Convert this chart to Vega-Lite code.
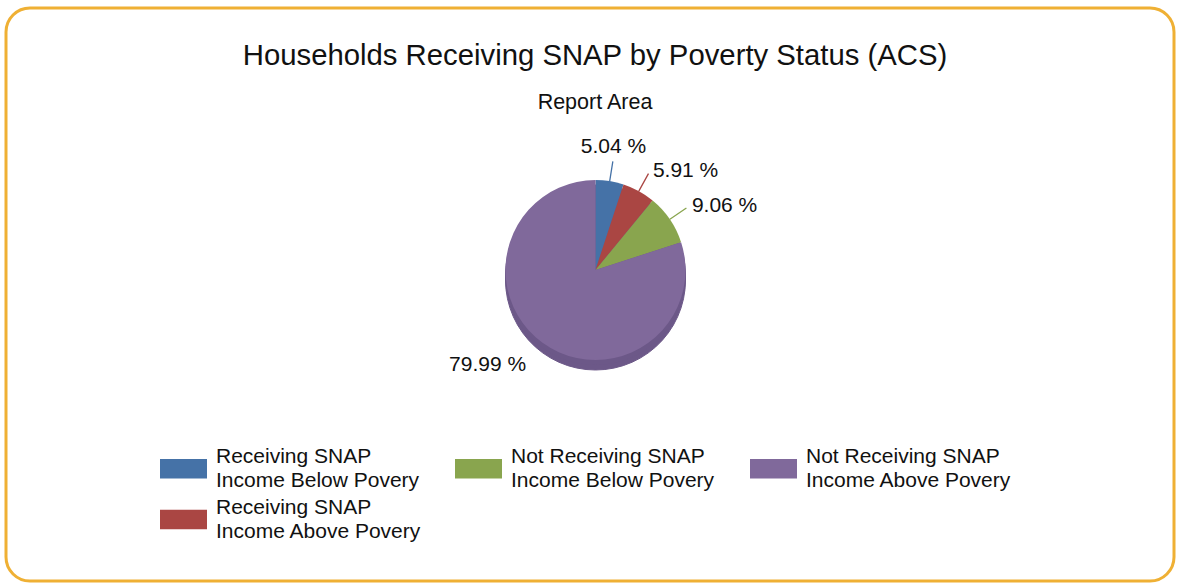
{
  "$schema": "https://vega.github.io/schema/vega-lite/v6.json",
  "width": 1180,
  "height": 586,
  "autosize": {"type": "fit", "contains": "padding"},
  "padding": {"left": 6, "top": 8, "right": 6, "bottom": 5},
  "background": "white",
  "view": {"stroke": "#EFB034", "strokeWidth": 3, "cornerRadius": 24, "fill": "white"},
  "config": {
    "view": {"stroke": "#EFB034", "strokeWidth": 3, "cornerRadius": 24},
    "font": "Liberation Sans"
  },
  "title": {
    "text": "Households Receiving SNAP by Poverty Status (ACS)",
    "subtitle": "Report Area",
    "fontSize": 29.3,
    "fontWeight": "normal",
    "color": "#111111",
    "subtitleFontSize": 21.5,
    "subtitleColor": "#111111",
    "subtitlePadding": 20,
    "anchor": "middle",
    "offset": -105,
    "dx": 5
  },
  "data": {
    "values": [
      {"category": "Receiving SNAP Income Below Povery", "pct": 5.04, "label": "5.04 %"},
      {"category": "Receiving SNAP Income Above Povery", "pct": 5.91, "label": "5.91 %"},
      {"category": "Not Receiving SNAP Income Below Povery", "pct": 9.06, "label": "9.06 %"},
      {"category": "Not Receiving SNAP Income Above Povery", "pct": 79.99, "label": "79.99 %"}
    ]
  },
  "encoding": {
    "theta": {"field": "pct", "type": "quantitative", "stack": true},
    "order": {"field": "pct", "type": "quantitative", "sort": "ascending"}
  },
  "layer": [
    {
      "mark": {"type": "arc", "outerRadius": 90, "fill": "#6C5888", "stroke": "#6C5888", "strokeWidth": 1, "xOffset": 5.5, "yOffset": -14.5}
    },
    {
      "mark": {"type": "arc", "outerRadius": 90, "fill": "#6C5888", "stroke": "#6C5888", "strokeWidth": 1, "xOffset": 5.5, "yOffset": -19.5}
    },
    {
      "mark": {"type": "arc", "outerRadius": 90, "xOffset": 5.5, "yOffset": -24.5},
      "encoding": {
        "color": {
          "field": "category",
          "type": "nominal",
          "scale": {
            "domain": ["Receiving SNAP Income Below Povery", "Not Receiving SNAP Income Below Povery", "Not Receiving SNAP Income Above Povery", "Receiving SNAP Income Above Povery"],
            "range": ["#4572A7", "#89A54E", "#80699B", "#AA4643"]
          },
          "legend": {
            "orient": "none",
            "legendX": 154,
            "legendY": 437,
            "direction": "horizontal",
            "columns": 3,
            "title": null,
            "symbolType": "M-1,-0.42H1V0.42H-1Z",
            "symbolSize": 2209,
            "symbolStrokeWidth": 0,
            "symbolOpacity": 1,
            "labelFontSize": 21,
            "labelColor": "#111111",
            "labelOffset": 9,
            "labelLimit": 400,
            "columnPadding": 33,
            "rowPadding": 5,
            "gridAlign": "all",
            "padding": 0,
            "labelExpr": "[slice(datum.label, 0, indexof(datum.label, 'SNAP') + 4), slice(datum.label, indexof(datum.label, 'SNAP') + 5)]",
            "encode": {"labels": {"update": {"lineHeight": {"value": 24}, "dy": {"value": -12}}}}
          }
        }
      }
    },
    {
      "mark": {"type": "arc", "innerRadius": 90, "outerRadius": 110, "padAngle": 3, "filled": false, "strokeWidth": 1.3, "xOffset": 5.5, "yOffset": -24.5},
      "encoding": {
        "stroke": {
          "field": "category",
          "type": "nominal",
          "scale": {
            "domain": ["Receiving SNAP Income Below Povery", "Not Receiving SNAP Income Below Povery", "Not Receiving SNAP Income Above Povery", "Receiving SNAP Income Above Povery"],
            "range": ["#4572A7", "#89A54E", "#80699B", "#AA4643"]
          },
          "legend": null
        },
        "strokeOpacity": {"condition": {"test": "datum.pct > 50", "value": 0}, "value": 1}
      }
    },
    {
      "mark": {"type": "text", "radius": 114, "align": "center", "baseline": "bottom", "fontSize": 21, "color": "#111111", "xOffset": 5.5, "yOffset": -24.5},
      "encoding": {
        "text": {"condition": {"test": "datum.category === 'Receiving SNAP Income Below Povery'", "field": "label"}, "value": ""}
      }
    },
    {
      "mark": {"type": "text", "radius": 113, "align": "left", "baseline": "middle", "dx": 3, "fontSize": 21, "color": "#111111", "xOffset": 5.5, "yOffset": -24.5},
      "encoding": {
        "text": {"condition": {"test": "datum.category === 'Receiving SNAP Income Above Povery' || datum.category === 'Not Receiving SNAP Income Below Povery'", "field": "label"}, "value": ""}
      }
    },
    {
      "mark": {"type": "text", "radius": 118, "align": "right", "baseline": "middle", "fontSize": 21, "color": "#111111", "xOffset": 5.5, "yOffset": -24.5},
      "encoding": {
        "text": {"condition": {"test": "datum.category === 'Not Receiving SNAP Income Above Povery'", "field": "label"}, "value": ""}
      }
    }
  ]
}
